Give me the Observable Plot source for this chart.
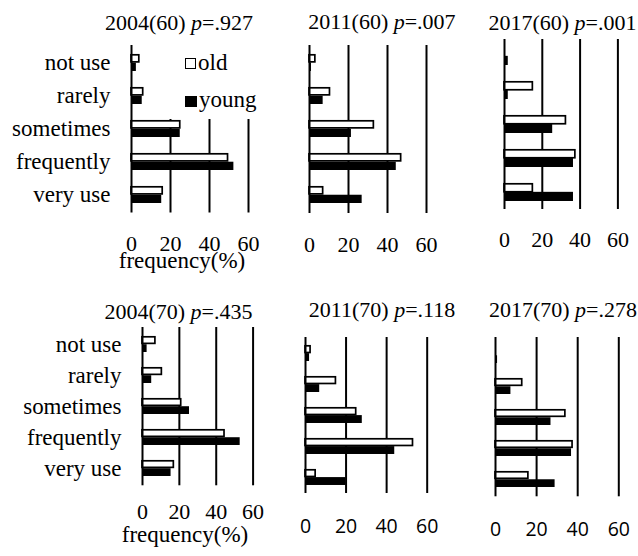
<!DOCTYPE html>
<html><head><meta charset="utf-8">
<script src="https://cdn.jsdelivr.net/npm/d3@7"></script>
<script src="https://cdn.jsdelivr.net/npm/@observablehq/plot@0.6"></script>
<style>
body{margin:0;background:#fff;}
#wrap{position:relative;width:638px;height:556px;overflow:hidden;background:#fff;}
.panel{position:absolute;}
.t{position:absolute;font-family:"Liberation Serif","Times New Roman",serif;font-size:22px;color:#000;white-space:nowrap;line-height:1;transform:translate(-50%,-50%);}
.lg{position:absolute;font-family:"Liberation Serif","Times New Roman",serif;font-size:23px;color:#000;white-space:nowrap;line-height:1;}
.sq{position:absolute;box-sizing:border-box;}
</style></head><body><div id="wrap"></div>
<script>
// ---- data ----
const categories = ["not use", "rarely", "sometimes", "frequently", "very use"];
const groups = ["old", "young"];
const years = ["2004", "2011", "2017", "2004", "2011", "2017"];
const ages = ["60", "60", "60", "70", "70", "70"];
const pValues = [".927", ".007", ".001", ".435", ".118", ".278"];
const oldValues = [
  [4, 6, 25, 49.5, 16],
  [3, 10.5, 33, 47, 7],
  [0, 15, 32.5, 37.5, 15],
  [7, 10.5, 21, 44.5, 17],
  [2.5, 15, 25, 53, 5],
  [0, 13, 34, 37.5, 16]
];
const youngValues = [
  [2.5, 5.5, 25, 52.5, 15.5],
  [1, 7, 21.5, 44.5, 27],
  [2, 2, 25.5, 36.5, 36.5],
  [2.5, 5, 25.5, 53, 15.5],
  [2, 7, 28, 44, 20],
  [1, 7.5, 27, 37, 29]
];
const xTicks = [0, 20, 40, 60];
const xLabel = "frequency(%)";

// ---- layout (pixel of 0, pixel of 60, top/bottom of plotting area) ----
const SERIF = '"Liberation Serif", "Times New Roman", serif';
const SANS = '"Open Sans", "Noto Sans", sans-serif';
const layout = [
  {x0: 130.7, x1: 247.7, y0: 45, y1: 212.5, labels: true, font: SERIF, fs: 22, tickPad: 22.5, tx: 179, ty: 23, lx: 182, ly: 259.5},
  {x0: 309, x1: 426, y0: 45, y1: 213, labels: false, font: SERIF, fs: 22, tickPad: 23, tx: 382, ty: 22},
  {x0: 504.3, x1: 617.7, y0: 39, y1: 209, labels: false, font: SERIF, fs: 22, tickPad: 22, tx: 562.5, ty: 23},
  {x0: 141.7, x1: 252.3, y0: 326.7, y1: 485, labels: true, font: SERIF, fs: 22, tickPad: 18, tx: 178.5, ty: 311.5, lx: 185, ly: 534},
  {x0: 305, x1: 426.7, y0: 337.3, y1: 493.3, labels: false, font: SANS, fs: 19.5, tickPad: 26, tx: 382, ty: 310},
  {x0: 495, x1: 618.3, y0: 336.7, y1: 496, labels: false, font: SANS, fs: 19.5, tickPad: 25, tx: 563, ty: 310}
];

const wrap = document.getElementById("wrap");

layout.forEach((L, i) => {
  const rows = [];
  categories.forEach((c, j) => {
    rows.push({category: c, group: groups[0], value: oldValues[i][j]});
    rows.push({category: c, group: groups[1], value: youngValues[i][j]});
  });
  const ml = L.labels ? 128 : 12, mr = 16, mt = 4, mb = 60;
  const step = (L.y1 - L.y0) / categories.length;
  const pad = 0.48;
  const bw = step * (1 - pad);
  const svg = Plot.plot({
    width: ml + (L.x1 - L.x0) + mr,
    height: mt + (L.y1 - L.y0) + mb,
    marginLeft: ml, marginRight: mr, marginTop: mt, marginBottom: mb,
    style: `font-family: ${L.font}; font-size: ${L.fs}px; color: #000; background: transparent; overflow: visible;`,
    x: {domain: [0, 60], axis: null},
    y: {domain: categories, type: "band", paddingInner: pad, paddingOuter: pad / 2, axis: null},
    marks: [
      Plot.ruleX(xTicks.slice(1), {stroke: "#000", strokeWidth: 2}),
      Plot.barX(rows.filter(d => d.group === "old"), {x: "value", y: "category", fill: "#fff", stroke: "#000", strokeWidth: 1.7, insetBottom: bw / 2 + 0.4, insetTop: 0.8}),
      Plot.barX(rows.filter(d => d.group === "young"), {x: "value", y: "category", fill: "#000", insetTop: bw / 2}),
      Plot.ruleX([0], {stroke: "#000", strokeWidth: 2}),
      Plot.axisX({ticks: xTicks, tickSize: 0, tickPadding: L.tickPad, label: null, fontSize: L.fs, fontFamily: L.font, fill: "#000"}),
      L.labels ? Plot.axisY({tickSize: 0, tickPadding: 21, label: null, fontSize: 23, fontFamily: L.font, fill: "#000"}) : null
    ].filter(Boolean)
  });
  svg.classList.add("panel");
  svg.style.position = "absolute";
  svg.style.left = (L.x0 - ml) + "px";
  svg.style.top = (L.y0 - mt) + "px";
  wrap.appendChild(svg);

  const title = document.createElement("div");
  title.className = "t";
  title.style.left = L.tx + "px";
  title.style.top = L.ty + "px";
  title.innerHTML = `${years[i]}(${ages[i]}) <i>p</i>=${pValues[i]}`;
  wrap.appendChild(title);

  if (L.lx !== undefined) {
    const xl = document.createElement("div");
    xl.className = "t";
    xl.style.fontSize = "23px";
    xl.style.left = L.lx + "px";
    xl.style.top = L.ly + "px";
    xl.textContent = xLabel;
    wrap.appendChild(xl);
  }
});

// legend (with white box hiding gridlines behind it, as in the original)
const cover = document.createElement("div");
cover.style.cssText = "position:absolute;left:150px;top:40px;width:115px;height:79px;background:#fff;";
wrap.appendChild(cover);
const sqOld = document.createElement("div");
sqOld.className = "sq";
sqOld.style.cssText += "left:185px;top:57.5px;width:11px;height:11px;border:1.5px solid #000;background:#fff;";
wrap.appendChild(sqOld);
const sqYoung = document.createElement("div");
sqYoung.className = "sq";
sqYoung.style.cssText += "left:185px;top:96px;width:12px;height:11px;background:#000;";
wrap.appendChild(sqYoung);
const tOld = document.createElement("div");
tOld.className = "lg";
tOld.style.left = "198px"; tOld.style.top = "51px";
tOld.textContent = groups[0];
wrap.appendChild(tOld);
const tYoung = document.createElement("div");
tYoung.className = "lg";
tYoung.style.left = "199px"; tYoung.style.top = "88px";
tYoung.textContent = groups[1];
wrap.appendChild(tYoung);
</script>
</body></html>
